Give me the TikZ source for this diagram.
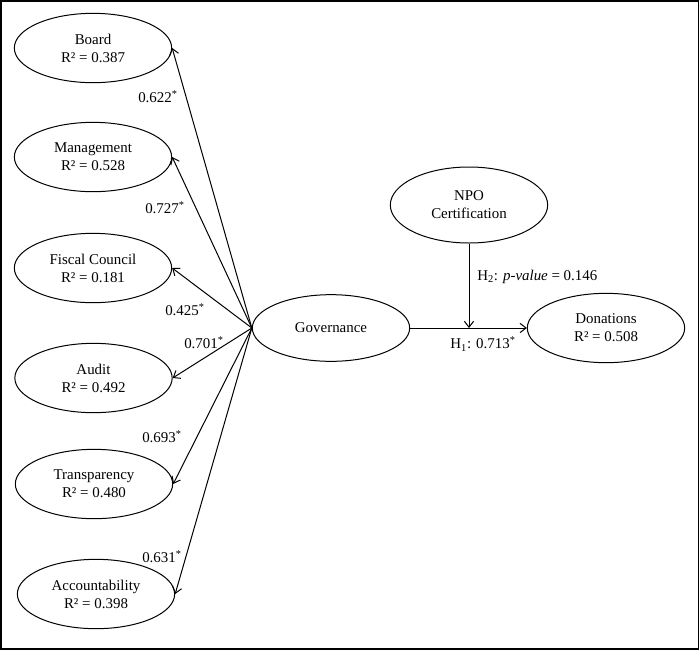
\documentclass[tikz,border=0pt]{standalone}
\usepackage{fontspec}
\setmainfont{Liberation Serif}
\usetikzlibrary{shapes.geometric,arrows.meta}
\begin{document}
\begin{tikzpicture}[x=0.75pt,y=-0.75pt,
  latent/.style={draw,ellipse,line width=0.75pt,minimum width=118pt,minimum height=52pt,inner sep=0pt,align=center,font=\fontsize{11.2pt}{13.5pt}\selectfont},
  conn/.style={line width=0.75pt,-{Straight Barb[length=4.5pt,width=7pt,line width=0.75pt]}},
  lbl/.style={font=\fontsize{11.2pt}{13.5pt}\selectfont,inner sep=0pt}]
\useasboundingbox (0,0) rectangle (700,651);
\draw[line width=1.4pt] (1,1) rectangle (698.5,649);
\node[latent] (board) at (93,48) {Board\\R² = 0.387};
\node[latent] (mgmt) at (93,157) {Management\\R² = 0.528};
\node[latent] (fiscal) at (93,268) {Fiscal Council\\R² = 0.181};
\node[latent] (audit) at (93.5,378) {Audit\\R² = 0.492};
\node[latent] (transp) at (94,484) {Transparency\\R² = 0.480};
\node[latent] (account) at (96,594) {Accountability\\R² = 0.398};
\node[latent,minimum height=50pt] (gov) at (331,328) {Governance};
\node[latent,minimum height=52pt] (don) at (606,328) {Donations\\R² = 0.508};
\node[latent,minimum height=57pt] (npo) at (469,205) {NPO\\Certification};
\coordinate (mid) at (469,328);
\draw[conn] (gov.west) -- (board.east);
\draw[conn] (gov.west) -- (mgmt.east);
\draw[conn] (gov.west) -- (fiscal.east);
\draw[conn] (gov.west) -- (audit.east);
\draw[conn] (gov.west) -- (transp.east);
\draw[conn] (gov.west) -- (account.east);
\draw[conn] (gov.east) -- (don.west);
\draw[conn] (npo.south) -- (mid);
\node[lbl] (l1) at (158,97) {0.622\textsuperscript{*}};
\node[lbl] (l2) at (165,208) {0.727\textsuperscript{*}};
\node[lbl] (l3) at (185,310) {0.425\textsuperscript{*}};
\node[lbl] (l4) at (204,343) {0.701\textsuperscript{*}};
\node[lbl] (l5) at (162,437) {0.693\textsuperscript{*}};
\node[lbl] (l6) at (162,557) {0.631\textsuperscript{*}};
\node[lbl,anchor=west] (h2) at (477,277) {H\textsubscript{2}: \textit{p-value} = 0.146};
\node[lbl] (h1) at (483,344) {H\textsubscript{1}: 0.713\textsuperscript{*}};
\end{tikzpicture}
\end{document}
